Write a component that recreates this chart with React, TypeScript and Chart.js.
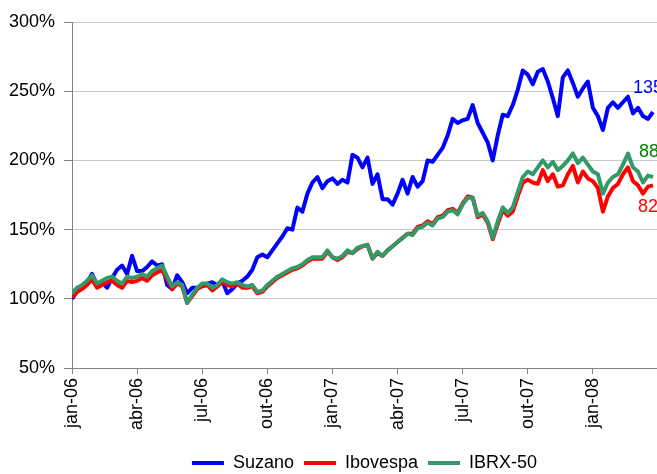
import React, { useEffect, useRef } from 'react';
import { Chart, registerables } from 'chart.js';

Chart.register(...registerables);

// Quarter tick labels (one every 13 weeks)
const quarterLabels = ['jan-06', 'abr-06', 'jul-06', 'out-06', 'jan-07', 'abr-07', 'jul-07', 'out-07', 'jan-08'];
const weeksPerQuarter = 13;
const lastWeek = 116.8;

// Weekly index values (%), base 100 = jan-06
const suzano = [
  100, 105, 108, 112, 118, 110, 112, 108, 115, 121,
  124, 118, 131, 120, 120, 123, 127, 124, 125, 110,
  107, 117, 112, 104, 108, 108, 110, 111, 112, 110,
  113, 104, 107, 111, 113, 116, 121, 130, 132, 130,
  135, 140, 145, 151, 150, 166, 163, 176, 184, 188,
  180, 185, 187, 183, 186, 184, 204, 202, 195, 202,
  183, 190, 172, 172, 168, 176, 186, 176, 188, 181,
  185, 200, 199, 204, 209, 218, 230, 227, 229, 230,
  240, 227, 220, 213, 200, 218, 233, 232, 240, 251,
  265, 262, 255, 264, 266, 257, 245, 232, 260, 265,
  256, 246, 252, 257, 238, 232, 222, 238, 242, 238,
  242, 246, 234, 238, 232, 230, 235,
];

const ibovespa = [
  101, 105, 107, 110, 114, 108, 110, 112, 113, 110,
  108, 113, 112, 113, 115, 113, 117, 119, 121, 114,
  107, 111, 109, 97, 102, 107, 109, 110, 106, 109,
  112, 110, 109, 111, 108, 108, 109, 104, 105, 109,
  112, 115, 117, 119, 121, 122, 124, 127, 129, 129,
  129, 134, 130, 128, 130, 134, 133, 136, 138, 139,
  129, 133, 131, 135, 138, 141, 144, 147, 147, 152,
  153, 156, 154, 159, 160, 164, 165, 162, 169, 174,
  173, 159, 161, 155, 143, 154, 164, 160, 163, 174,
  184, 186, 184, 183, 193, 185, 190, 181, 182, 190,
  196, 184, 192, 187, 185, 180, 163, 174, 180, 183,
  190, 195, 185, 182, 176, 181, 182,
];

const ibrx50 = [
  104, 108, 110, 113, 117, 111, 113, 115, 116, 113,
  111, 116, 115, 116, 118, 116, 120, 122, 124, 116,
  109, 112, 110, 97, 103, 108, 111, 111, 108, 110,
  114, 112, 111, 112, 110, 109, 110, 105, 106, 110,
  113, 116, 118, 120, 122, 123, 125, 128, 130, 130,
  130, 135, 130, 129, 131, 135, 133, 137, 138, 139,
  129, 134, 131, 135, 138, 141, 144, 147, 146, 151,
  152, 155, 153, 158, 159, 163, 164, 161, 168, 173,
  173, 160, 162, 156, 144, 156, 166, 162, 166, 177,
  188, 192, 190, 195, 200, 195, 199, 193, 196, 200,
  205, 198, 202, 197, 192, 190, 176, 184, 188, 190,
  197, 205, 195, 192, 184, 189, 188,
];

// End-of-period performance annotations
const endLabelTexts = ['135', '88', '82'];
const endLabelWeeks = [112.0, 113.2, 113.0];
const endLabelValues = [252, 206, 166];
const endLabelColors = ['#0000ff', '#008000', '#ff0000'];

const FONT = "'Liberation Sans', Arial, sans-serif";

const legendAlignPlugin = {
  id: 'legendAlign',
  afterLayout(chart: any) {
    const lg = chart.legend;
    if (lg) {
      lg.left = chart.chartArea.left;
      lg.right = chart.chartArea.right;
    }
  },
};

const endLabelPlugin = {
  id: 'endLabels',
  afterDatasetsDraw(chart: any) {
    const { ctx, scales } = chart;
    ctx.save();
    ctx.font = `18px ${FONT}`;
    ctx.textAlign = 'left';
    ctx.textBaseline = 'middle';
    endLabelTexts.forEach((t, i) => {
      ctx.fillStyle = endLabelColors[i];
      ctx.fillText(t, scales.x.getPixelForValue(endLabelWeeks[i]), scales.y.getPixelForValue(endLabelValues[i]));
    });
    ctx.restore();
  },
};

export default function App() {
  const ref = useRef<HTMLCanvasElement>(null);

  useEffect(() => {
    if (!ref.current) return;
    Chart.defaults.font.family = FONT;
    Chart.defaults.font.size = 18;
    Chart.defaults.color = '#000';
    const toPts = (arr: number[]) => arr.map((v, i) => ({ x: i, y: v }));
    const common = { borderWidth: 4, pointRadius: 0, tension: 0, borderJoinStyle: 'round' as const, fill: false };
    const chart = new Chart(ref.current, {
      type: 'line',
      data: {
        datasets: [
          { label: 'Suzano', data: toPts(suzano), borderColor: '#0000ff', backgroundColor: '#0000ff', order: 3, ...common },
          { label: 'Ibovespa', data: toPts(ibovespa), borderColor: '#ff0000', backgroundColor: '#ff0000', order: 2, ...common },
          { label: 'IBRX-50', data: toPts(ibrx50), borderColor: '#339966', backgroundColor: '#339966', order: 1, ...common },
        ],
      },
      options: {
        responsive: false,
        animation: false,
        layout: { padding: { top: 22, left: 0, right: 0, bottom: 0 } },
        scales: {
          x: {
            type: 'linear',
            min: 0,
            max: lastWeek,
            afterBuildTicks: (s: any) => {
              s.ticks = quarterLabels.map((_, i) => ({ value: i * weeksPerQuarter }));
            },
            afterFit: (s: any) => {
              s.height = 76;
            },
            ticks: {
              autoSkip: false,
              minRotation: 90,
              maxRotation: 90,
              padding: 4,
              color: '#000',
              callback: (_v: any, i: number) => quarterLabels[i] ?? '',
            },
            grid: { drawOnChartArea: false, drawTicks: true, tickLength: 6, tickColor: '#808080' },
            border: { color: '#808080', width: 1 },
          },
          y: {
            min: 50,
            max: 300,
            afterFit: (s: any) => {
              s.width = 72;
            },
            ticks: { stepSize: 50, padding: 9, color: '#000', callback: (v: any) => `${v}%` },
            grid: { color: '#c8c8c8', tickColor: '#808080', tickLength: 8 },
            border: { color: '#808080', width: 1 },
          },
        },
        plugins: {
          legend: {
            position: 'bottom',
            labels: {
              usePointStyle: true,
              pointStyle: 'line',
              pointStyleWidth: 32,
              padding: 10,
              color: '#000',
              sort: (a: any, b: any) => a.datasetIndex - b.datasetIndex,
            },
          },
          tooltip: { enabled: false },
        },
      } as any,
      plugins: [legendAlignPlugin, endLabelPlugin],
    });
    return () => chart.destroy();
  }, []);

  return (
    <div style={{ position: 'absolute', left: 0, top: 0, width: 657, height: 474, overflow: 'hidden', background: '#fff' }}>
      <canvas ref={ref} width={657} height={482} style={{ display: 'block' }} />
    </div>
  );
}
